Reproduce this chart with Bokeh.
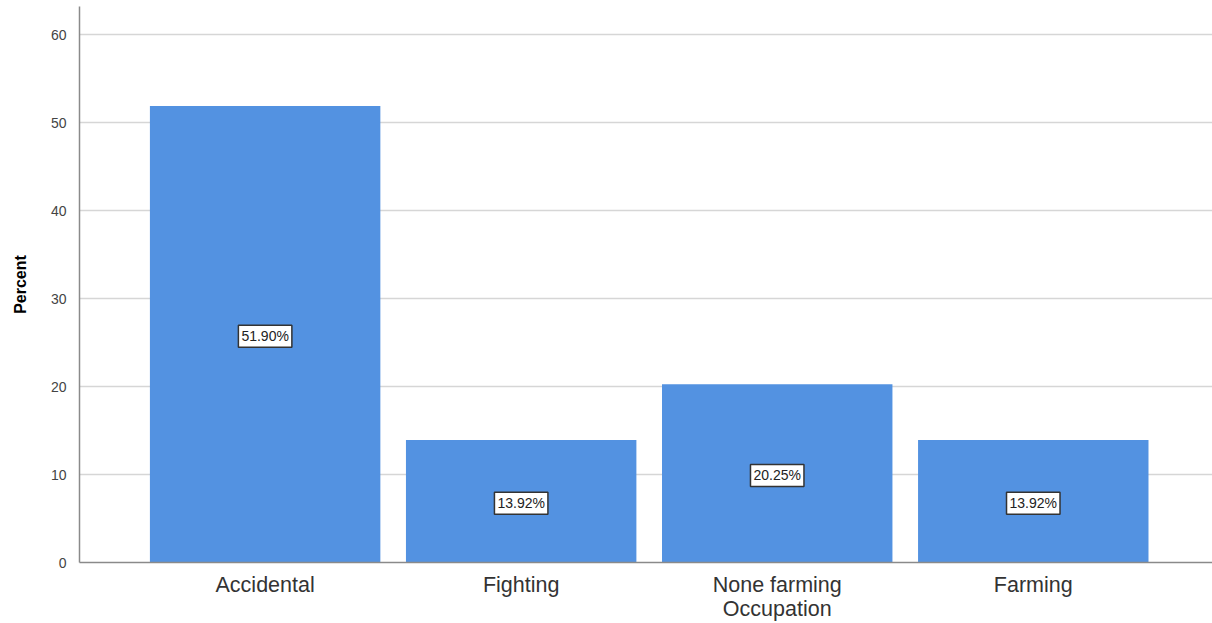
from bokeh.plotting import figure
from bokeh.models import ColumnDataSource, Label, FixedTicker, Range1d
from bokeh.embed import file_html
from bokeh.resources import INLINE

# Injury cause categories and their share of cases (%)
categories = ["Accidental", "Fighting", "None farming\nOccupation", "Farming"]
percents = [51.90, 13.92, 20.25, 13.92]
y_ticks = [0, 10, 20, 30, 40, 50, 60]

positions = list(range(1, len(categories) + 1))

source = ColumnDataSource(data=dict(x=positions, top=percents))

FONT = "Liberation Sans"

p = figure(
    width=1212, height=623,
    x_range=Range1d(0.275, 4.70),
    y_range=Range1d(0, 63.2),
    output_backend="svg", toolbar_location=None,
    min_border_left=79, min_border_right=0, min_border_top=6, min_border_bottom=60,
)
p.outline_line_color = None
p.background_fill_color = "white"
p.border_fill_color = "white"

p.vbar(x="x", top="top", width=0.9, source=source,
       fill_color="#5392E1", line_color=None)

# boxed value labels, centred halfway up each bar
for pos, val in zip(positions, percents):
    p.add_layout(Label(
        x=pos, y=val / 2, y_offset=-2, text=f"{val:.2f}%",
        text_align="center", text_baseline="middle",
        text_font=FONT, text_font_size="14px", text_color="#222222",
        background_fill_color="white", border_line_color="#333333",
        border_line_width=1.5, padding=3,
    ))

# y axis
p.yaxis.ticker = FixedTicker(ticks=y_ticks)
p.yaxis.axis_label = "Percent"
p.yaxis.axis_label_text_font = FONT
p.yaxis.axis_label_text_font_style = "bold"
p.yaxis.axis_label_text_font_size = "16px"
p.yaxis.axis_label_text_color = "#000000"
p.yaxis.axis_label_standoff = 19
p.yaxis.major_label_text_font = FONT
p.yaxis.major_label_text_font_size = "14px"
p.yaxis.major_label_text_color = "#444444"
p.yaxis.major_tick_line_color = None
p.yaxis.minor_tick_line_color = None
p.yaxis.axis_line_color = "#8a8a8a"
p.yaxis.axis_line_width = 1.5
p.yaxis.major_label_standoff = 7

# x axis
p.xaxis.ticker = FixedTicker(ticks=positions)
p.xaxis.major_label_overrides = {pos: name for pos, name in zip(positions, categories)}
p.xaxis.major_label_text_font = FONT
p.xaxis.major_label_text_font_size = "21.5px"
p.xaxis.major_label_text_color = "#333333"
p.xaxis.major_label_text_line_height = 1.0
p.xaxis.major_tick_line_color = None
p.xaxis.minor_tick_line_color = None
p.xaxis.axis_line_color = "#8a8a8a"
p.xaxis.axis_line_width = 1.5
p.xaxis.major_label_standoff = 4

p.xgrid.grid_line_color = None
p.ygrid.grid_line_color = "#d6d6d6"
p.ygrid.grid_line_width = 1.5

open("out.html", "w").write(file_html(p, INLINE))
